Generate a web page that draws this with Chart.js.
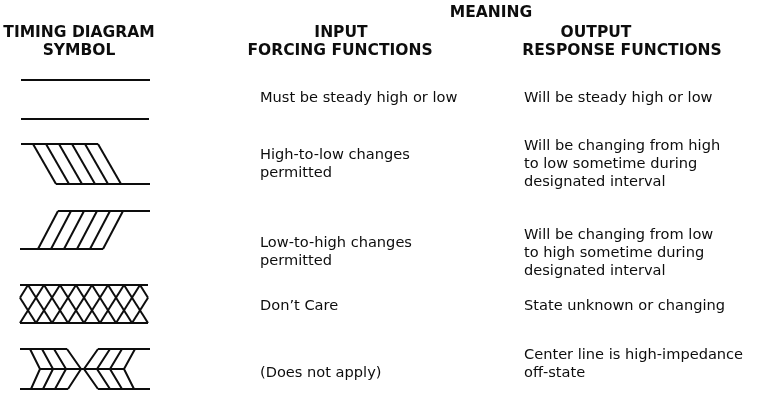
<!DOCTYPE html>
<html>
<head>
<meta charset="utf-8">
<script src="https://cdn.jsdelivr.net/npm/chart.js@4.4.1/dist/chart.umd.min.js"></script>
<style>
  html, body { margin: 0; padding: 0; background: #fff; }
  #wrap { width: 758px; height: 402px; }
</style>
</head>
<body>
<div id="wrap"><canvas id="chart" width="758" height="402"></canvas></div>
<script>
// ===== Symbol geometry (diagram units: x across, y down) =====
// steady high / low
const steadyLines = [
    [[21, 80], [150, 80]],
    [[21, 119], [149, 119]]
];
// high-to-low changes
const hiLowEdges = [
    [[21, 144], [98, 144]],
    [[56, 184], [150, 184]]
];
const hiLowSlants = [
    [[33, 144], [56, 184]], [[46, 144], [69, 184]], [[59, 144], [82, 184]],
    [[72, 144], [95, 184]], [[85, 144], [108, 184]], [[98, 144], [121, 184]]
];
// low-to-high changes
const lowHiEdges = [
    [[58, 211], [150, 211]],
    [[20, 249], [103, 249]]
];
const lowHiSlants = [
    [[38, 249], [58, 211]], [[51, 249], [71, 211]], [[64, 249], [84, 211]],
    [[77, 249], [97, 211]], [[90, 249], [110, 211]], [[103, 249], [123, 211]]
];
// don't care
const dontCareEdges = [
    [[20, 285], [148, 285]],
    [[20, 323], [148, 323]]
];
const dontCareRising = [
    [[20, 297.7], [28, 285]], [[20, 323], [44, 285]], [[36, 323], [60, 285]],
    [[52, 323], [76, 285]], [[68, 323], [92, 285]], [[84, 323], [108, 285]],
    [[100, 323], [124, 285]], [[116, 323], [140, 285]], [[132, 323], [148, 297.7]]
];
const dontCareFalling = [
    [[20, 297.7], [36, 323]], [[28, 285], [52, 323]], [[44, 285], [68, 323]],
    [[60, 285], [84, 323]], [[76, 285], [100, 323]], [[92, 285], [116, 323]],
    [[108, 285], [132, 323]], [[124, 285], [148, 323]], [[140, 285], [148, 297.7]]
];
// high-impedance (center line)
const hiZEdges = [
    [[20, 349], [67, 349]], [[98, 349], [150, 349]],
    [[20, 389], [68, 389]], [[98, 389], [150, 389]],
    [[40, 369], [124, 369]]
];
const hiZLeftChevrons = [
    [[30, 349], [40, 369], [31, 389]],
    [[42, 349], [53, 369], [43, 389]],
    [[54, 349], [66, 369], [55, 389]],
    [[67, 349], [81, 369], [68, 389]]
];
const hiZRightChevrons = [
    [[98, 349], [84, 369], [98, 389]],
    [[110, 349], [97, 369], [110, 389]],
    [[122, 349], [110, 369], [122, 389]],
    [[135, 349], [124, 369], [134, 389]]
];

// ===== Text =====
const headerTexts = ['MEANING', 'TIMING DIAGRAM', 'SYMBOL', 'INPUT', 'FORCING FUNCTIONS', 'OUTPUT', 'RESPONSE FUNCTIONS'];
const headerPos = [[491, 13], [79, 33], [79, 51], [341, 33], [340, 51], [596, 33], [622, 51]];

const inputTexts = [
    ['Must be steady high or low'],
    ['High-to-low changes', 'permitted'],
    ['Low-to-high changes', 'permitted'],
    ['Don\u2019t Care'],
    ['(Does not apply)']
];
const inputTop = [98, 155, 243, 306, 373];

const outputTexts = [
    ['Will be steady high or low'],
    ['Will be changing from high', 'to low sometime during', 'designated interval'],
    ['Will be changing from low', 'to high sometime during', 'designated interval'],
    ['State unknown or changing'],
    ['Center line is high-impedance', 'off-state']
];
const outputTop = [98, 146, 235, 306, 355];

const inputX = 260;
const outputX = 524;
const lineGap = 18.3;
const ink = '#0d0d0d';

// ===== Build datasets =====
const shapes = [].concat(
    steadyLines, hiLowEdges, hiLowSlants, lowHiEdges, lowHiSlants,
    dontCareEdges, dontCareRising, dontCareFalling,
    hiZEdges, hiZLeftChevrons, hiZRightChevrons
);

const datasets = shapes.map(pts => ({
    data: pts.map(([x, y]) => ({ x, y })),
    showLine: true,
    borderColor: ink,
    borderWidth: 2,
    pointRadius: 0,
    fill: false,
    tension: 0,
    borderJoinStyle: 'miter',
    borderCapStyle: 'butt'
}));

const tableText = {
    id: 'tableText',
    afterDatasetsDraw(chart) {
        const { ctx, scales: { x, y } } = chart;
        ctx.save();
        ctx.fillStyle = ink;
        ctx.textBaseline = 'middle';

        ctx.font = 'bold 15.5px "DejaVu Sans"';
        ctx.textAlign = 'center';
        headerTexts.forEach((t, i) => {
            ctx.fillText(t, x.getPixelForValue(headerPos[i][0]), y.getPixelForValue(headerPos[i][1]));
        });

        ctx.font = '14.6px "DejaVu Sans"';
        ctx.textAlign = 'left';
        inputTexts.forEach((lines, i) => {
            lines.forEach((t, j) => {
                ctx.fillText(t, x.getPixelForValue(inputX), y.getPixelForValue(inputTop[i] + j * lineGap));
            });
        });
        outputTexts.forEach((lines, i) => {
            lines.forEach((t, j) => {
                ctx.fillText(t, x.getPixelForValue(outputX), y.getPixelForValue(outputTop[i] + j * lineGap));
            });
        });
        ctx.restore();
    }
};

new Chart(document.getElementById('chart'), {
    type: 'scatter',
    data: { datasets },
    options: {
        responsive: false,
        animation: false,
        devicePixelRatio: 1,
        layout: { padding: 0 },
        plugins: { legend: { display: false }, tooltip: { enabled: false } },
        scales: {
            x: { type: 'linear', min: 0, max: 758, display: false },
            y: { type: 'linear', min: 0, max: 402, reverse: true, display: false }
        }
    },
    plugins: [tableText]
});
</script>
</body>
</html>
